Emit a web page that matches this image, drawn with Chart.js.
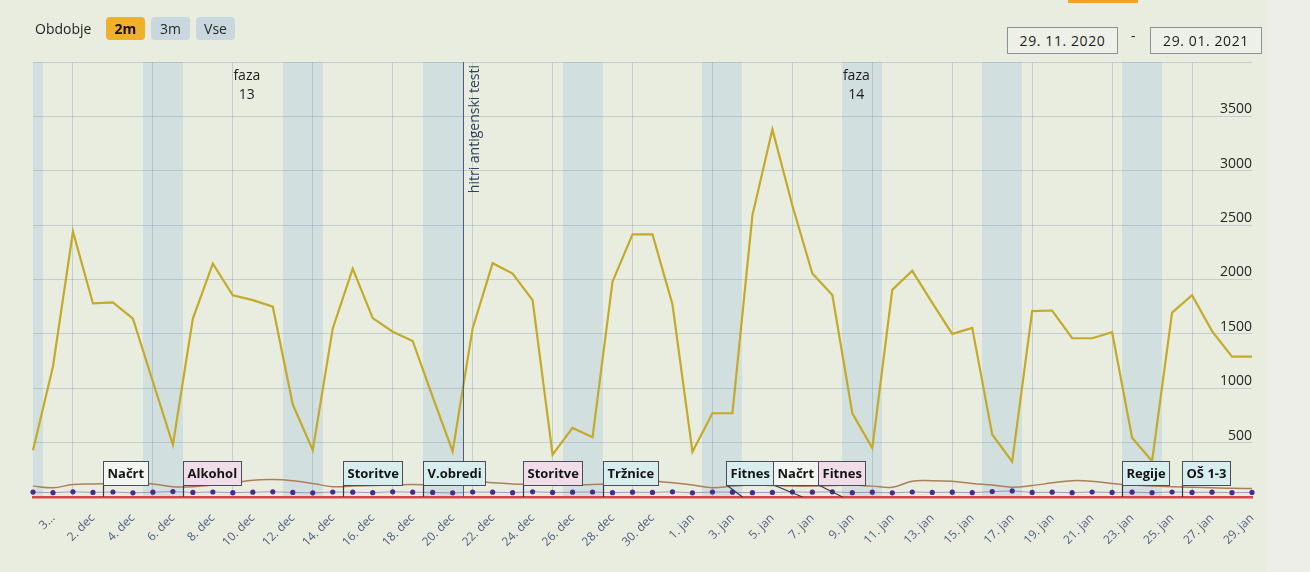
<!DOCTYPE html>
<html>
<head>
<meta charset="utf-8">
<script src="https://cdn.jsdelivr.net/npm/chart.js@4.4.0/dist/chart.umd.min.js"></script>
<style>
  html, body { margin: 0; padding: 0; }
  body { width: 1310px; height: 572px; overflow: hidden; position: relative; background: #e9eddf; font-family: "Open Sans", sans-serif; }
  #wrap { position: absolute; left: 0; top: 0; width: 1310px; height: 572px; }
  .edge { position: absolute; left: 1266px; top: 0; width: 44px; height: 572px; background: #eceee7; }
  .topbar { position: absolute; left: 1068px; top: 0; width: 70px; height: 3px; background: #f0a424; }
  .obd { position: absolute; left: 35px; top: 19px; font-size: 14px; color: #1e1e1e; }
  .btn { position: absolute; top: 17px; height: 23px; line-height: 23px; border-radius: 4px; font-size: 14px; text-align: center; color: #2a2a2a; }
  .b2 { left: 106px; width: 39px; background: #f0b02c; font-weight: bold; color: #111; }
  .b3 { left: 151px; width: 39px; background: #c9d8de; }
  .bv { left: 196px; width: 39px; background: #c9d8de; }
  .date { position: absolute; top: 27px; height: 25px; line-height: 25px; border: 1.5px solid #8c8f96; font-size: 14px; letter-spacing: 0.6px; color: #1d1d1d; text-align: center; background: #edf0e6; }
  .d1 { left: 1007px; width: 109px; }
  .d2 { left: 1150px; width: 110px; }
  .dash { position: absolute; left: 1131px; top: 26px; font-size: 14px; color: #222; }
</style>
</head>
<body>
<div class="edge"></div>
<div class="topbar"></div>
<div id="wrap"><canvas id="graf"></canvas></div>
<div class="obd">Obdobje</div>
<div class="btn b2">2m</div>
<div class="btn b3">3m</div>
<div class="btn bv">Vse</div>
<div class="date d1">29. 11. 2020</div>
<div class="dash">-</div>
<div class="date d2">29. 01. 2021</div>
<script>
// dnevi 29. 11. 2020 - 29. 01. 2021
const dnevi = [
  '29. nov', '30. nov',
  '1. dec', '2. dec', '3. dec', '4. dec', '5. dec', '6. dec', '7. dec', '8. dec', '9. dec', '10. dec',
  '11. dec', '12. dec', '13. dec', '14. dec', '15. dec', '16. dec', '17. dec', '18. dec', '19. dec', '20. dec',
  '21. dec', '22. dec', '23. dec', '24. dec', '25. dec', '26. dec', '27. dec', '28. dec', '29. dec', '30. dec', '31. dec',
  '1. jan', '2. jan', '3. jan', '4. jan', '5. jan', '6. jan', '7. jan', '8. jan', '9. jan', '10. jan',
  '11. jan', '12. jan', '13. jan', '14. jan', '15. jan', '16. jan', '17. jan', '18. jan', '19. jan', '20. jan',
  '21. jan', '22. jan', '23. jan', '24. jan', '25. jan', '26. jan', '27. jan', '28. jan', '29. jan'
];

const potrjeni = [
  430, 1200, 2440, 1780, 1790, 1640, 1060, 480, 1640, 2145,
  1855, 1810, 1750, 850, 430, 1550, 2100, 1645, 1520, 1435,
  920, 420, 1550, 2150, 2055, 1810, 390, 635, 550, 1980,
  2415, 2415, 1770, 415, 770, 770, 2590, 3380, 2680, 2055,
  1858, 770, 450, 1905, 2080, 1785, 1500, 1555, 575, 325,
  1710, 1715, 1460, 1460, 1515, 545, 330, 1695, 1855, 1525,
  1290, 1290
];

const bolnisnica = [
  100, 85, 115, 120, 125, 130, 120, 95, 95, 110,
  130, 155, 160, 150, 125, 95, 100, 105, 110, 115,
  110, 110, 145, 130, 120, 115, 110, 110, 115, 120,
  140, 145, 130, 110, 85, 100, 110, 105, 100, 100,
  105, 110, 100, 90, 145, 150, 145, 125, 110, 90,
  105, 130, 150, 145, 125, 110, 100, 95, 90, 85,
  80, 78
];

const umrli = [
  45, 40, 48, 42, 46, 38, 44, 50, 42, 46,
  40, 44, 48, 42, 38, 46, 44, 40, 48, 44,
  42, 38, 46, 44, 40, 48, 42, 44, 46, 40,
  44, 42, 48, 38, 46, 44, 40, 42, 46, 44,
  48, 40, 44, 38, 46, 42, 44, 40, 50, 56,
  42, 44, 40, 46, 42, 44, 40, 46, 42, 44,
  40, 42
];

const ukrepiBesedilo = ['Načrt', 'Alkohol', 'Storitve', 'V.obredi', 'Storitve', 'Tržnice', 'Fitnes', 'Načrt', 'Fitnes', 'Regije', 'OŠ 1-3'];
const ukrepiDatum = ['3. dec', '7. dec', '15. dec', '19. dec', '24. dec', '28. dec', '4. jan', '7. jan', '9. jan', '23. jan', '26. jan'];
const ukrepiVrsta = ['nacrt', 'strozje', 'blazje', 'blazje', 'strozje', 'blazje', 'blazje', 'nacrt', 'strozje', 'blazje', 'blazje'];

const faze = ['faza 13', 'faza 14'];
const fazeDan = [10.7, 41.2];

const dogodek = 'hitri antigenski testi';
const dogodekDatum = '21. dec';

const yMax = 4000;
const yKorak = 500;

const barveUkrepov = { nacrt: '#f3f5f1', strozje: '#f0dde9', blazje: '#d8eeee' };
const mreza = 'rgba(120,140,178,0.33)';

function zacetekDneva(datum) {
  return dnevi.indexOf(datum) - 0.5;
}

/* vikendi v ozadju */
const vikendi = {
  id: 'vikendi',
  beforeDraw(chart) {
    const { ctx, chartArea, scales: { x } } = chart;
    ctx.save();
    ctx.beginPath();
    ctx.rect(chartArea.left, chartArea.top, chartArea.width, chartArea.height);
    ctx.clip();
    ctx.fillStyle = 'rgba(160,196,222,0.32)';
    dnevi.forEach((d, i) => {
      const dan = new Date(2020, 10, 29 + i).getDay();
      if (dan === 6 || (dan === 0 && i === 0)) {
        const x1 = x.getPixelForValue(i - 0.5);
        const x2 = x.getPixelForValue(dan === 6 ? i + 1.5 : i + 0.5);
        ctx.fillRect(Math.round(x1), chartArea.top, Math.round(x2) - Math.round(x1), chartArea.height);
      }
    });
    ctx.restore();
  }
};

/* ukrepi, faze in dogodek */
const oznake = {
  id: 'oznake',
  afterDatasetsDraw(chart) {
    const { ctx, chartArea, scales: { x } } = chart;
    const dno = chartArea.bottom;
    ctx.save();

    // navpicna crta dogodka
    const xd = Math.round(x.getPixelForValue(zacetekDneva(dogodekDatum))) + 0.5;
    ctx.strokeStyle = '#4c5b86';
    ctx.lineWidth = 1;
    ctx.beginPath();
    ctx.moveTo(xd, chartArea.top);
    ctx.lineTo(xd, dno);
    ctx.stroke();
    ctx.save();
    ctx.translate(xd + 5, chartArea.top + 3);
    ctx.rotate(-Math.PI / 2);
    ctx.font = '14px "Open Sans"';
    ctx.fillStyle = '#34405e';
    ctx.textAlign = 'right';
    ctx.textBaseline = 'top';
    ctx.fillText(dogodek, 0, 0);
    ctx.restore();

    // faze
    ctx.font = '14px "Open Sans"';
    ctx.fillStyle = '#1c1c1c';
    ctx.textAlign = 'center';
    ctx.textBaseline = 'middle';
    faze.forEach((f, i) => {
      const xf = x.getPixelForValue(fazeDan[i]);
      const [a, b] = f.split(' ');
      ctx.fillText(a, xf, chartArea.top + 14);
      ctx.fillText(b, xf, chartArea.top + 33);
    });

    // zastavice ukrepov
    ctx.font = 'bold 13px "Open Sans"';
    const skatle = ukrepiBesedilo.map((t, i) => {
      const ax = x.getPixelForValue(zacetekDneva(ukrepiDatum[i]));
      return { t, ax, w: Math.round(ctx.measureText(t).width) + 8, vrsta: ukrepiVrsta[i] };
    });
    let skupine = skatle.map(s => ({ items: [s], left: s.ax, w: s.w }));
    let spremenjeno = true;
    while (spremenjeno) {
      spremenjeno = false;
      for (let i = 1; i < skupine.length; i++) {
        const a = skupine[i - 1], b = skupine[i];
        if (a.left + a.w > b.left) {
          const items = a.items.concat(b.items);
          const w = a.w + b.w;
          const sr = items.reduce((s, it) => s + it.ax, 0) / items.length;
          skupine.splice(i - 1, 2, { items, w, left: sr - w / 2 });
          spremenjeno = true;
          break;
        }
      }
    }
    const vrh = dno - 36, visina = 24;
    skupine.forEach(g => {
      let l = g.left;
      g.items.forEach(s => {
        const lx = Math.round(l) + 0.5;
        ctx.strokeStyle = '#2f3558';
        ctx.lineWidth = 1.2;
        ctx.beginPath();
        ctx.moveTo(lx, vrh + visina);
        ctx.lineTo(Math.round(s.ax) + 0.5, dno);
        ctx.stroke();
        ctx.fillStyle = barveUkrepov[s.vrsta];
        ctx.fillRect(lx, vrh + 0.5, s.w, visina);
        ctx.strokeStyle = '#4a4d57';
        ctx.lineWidth = 1;
        ctx.strokeRect(lx, vrh + 0.5, s.w, visina);
        ctx.fillStyle = '#141414';
        ctx.textAlign = 'left';
        ctx.textBaseline = 'middle';
        ctx.fillText(s.t, lx + 4, vrh + visina / 2 + 1);
        l += s.w;
      });
    });
    ctx.restore();
  }
};

new Chart(document.getElementById('graf'), {
  type: 'line',
  data: {
    labels: dnevi,
    datasets: [
      {
        label: 'Potrjeni primeri',
        data: potrjeni,
        borderColor: '#c3aa2a',
        borderWidth: 2.2,
        pointRadius: 0,
        tension: 0,
        order: 1
      },
      {
        label: 'Hospitalizirani',
        data: bolnisnica,
        borderColor: '#ad7d5c',
        borderWidth: 1.5,
        pointRadius: 0,
        tension: 0.4,
        order: 2
      },
      {
        label: 'Umrli',
        data: umrli,
        borderColor: 'rgba(90,50,150,0.45)',
        borderWidth: 1,
        pointRadius: 2.6,
        pointBackgroundColor: '#4a2a8c',
        pointBorderWidth: 0,
        tension: 0,
        order: 3
      }
    ]
  },
  options: {
    responsive: true,
    maintainAspectRatio: false,
    animation: false,
    layout: { padding: { left: 33, right: 58, top: 62, bottom: 15 } },
    plugins: {
      legend: { display: false },
      tooltip: { enabled: false }
    },
    scales: {
      x: {
        type: 'category',
        offset: false,
        afterFit: s => { s.height = 60; },
        grid: {
          offset: true,
          drawTicks: false,
          color: c => (c.index % 2 === 1 ? mreza : 'rgba(0,0,0,0)')
        },
        border: { color: '#d8464a', width: 2.5 },
        ticks: {
          autoSkip: false,
          minRotation: 45,
          maxRotation: 45,
          padding: 14,
          color: '#526080',
          font: { family: 'Open Sans', size: 12 },
          callback: (v, i) => {
            if (i % 2 === 0) return null;
            return i === 1 ? dnevi[i].slice(0, 1) + '...' : dnevi[i];
          }
        }
      },
      y: {
        position: 'right',
        min: 0,
        max: yMax,
        afterFit: s => { s.width = 0; },
        grid: { color: mreza, drawTicks: false },
        border: { display: false },
        ticks: {
          stepSize: yKorak,
          mirror: true,
          padding: 0,
          labelOffset: -7,
          color: '#262626',
          font: { family: 'Open Sans', size: 14 },
          callback: v => (v === 0 || v === yMax ? '' : v)
        }
      }
    }
  },
  plugins: [vikendi, oznake]
});
</script>
</body>
</html>
